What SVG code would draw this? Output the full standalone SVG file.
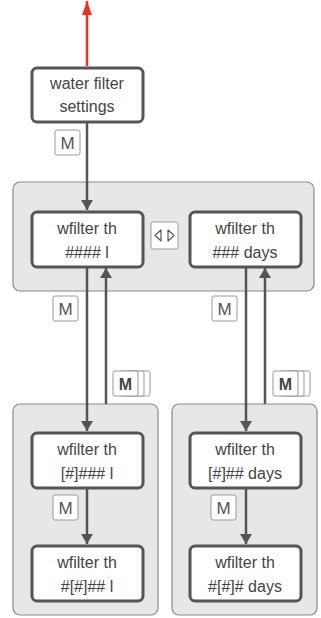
<svg xmlns="http://www.w3.org/2000/svg" width="321" height="618" viewBox="0 0 321 618">
<style>
.grp{fill:#e6e7e8;stroke:#8a8a8a;stroke-width:1.2}
.node{fill:#fff;stroke:#555;stroke-width:3}
.t{font-family:"Liberation Sans",Arial,sans-serif;font-size:16px;fill:#444;text-anchor:middle}
.badge{fill:#fff;stroke:#999;stroke-width:1}
.bt{font-family:"Liberation Sans",Arial,sans-serif;font-size:17px;fill:#555;text-anchor:middle}
.bb{font-weight:bold;font-size:16px;fill:#444}
.c{stroke:#555;stroke-width:2.5;fill:none}
</style>
<defs>
<marker id="ah" viewBox="0 0 10 12" refX="10" refY="6" markerWidth="10" markerHeight="12" markerUnits="userSpaceOnUse" orient="auto">
<path d="M0,0 L10,6 L0,12 Z" fill="#555"/>
</marker>
<marker id="ahr" viewBox="0 0 14 10" refX="14" refY="5" markerWidth="14" markerHeight="10" markerUnits="userSpaceOnUse" orient="auto">
<path d="M0,0 L14,5 L0,10 Z" fill="#ee3124"/>
</marker>
</defs>

<g id="group-top"><rect class="grp" x="13" y="182" width="301" height="109" rx="7"/></g>
<g id="group-left"><rect class="grp" x="13" y="404" width="145" height="211" rx="7"/></g>
<g id="group-right"><rect class="grp" x="172" y="404" width="145" height="211" rx="7"/></g>

<g id="connectors">
<line x1="87" y1="66" x2="87" y2="1" stroke="#ee3124" stroke-width="2.5" marker-end="url(#ahr)"/>
<line class="c" x1="87" y1="123" x2="87" y2="210" marker-end="url(#ah)"/>
<line class="c" x1="87" y1="268" x2="87" y2="431" marker-end="url(#ah)"/>
<line class="c" x1="106" y1="404" x2="106" y2="268" marker-end="url(#ah)"/>
<line class="c" x1="246" y1="268" x2="246" y2="431" marker-end="url(#ah)"/>
<line class="c" x1="265" y1="404" x2="265" y2="268" marker-end="url(#ah)"/>
<line class="c" x1="87" y1="489" x2="87" y2="544" marker-end="url(#ah)"/>
<line class="c" x1="246" y1="489" x2="246" y2="544" marker-end="url(#ah)"/>
</g>

<g id="node-settings">
<rect class="node" x="32" y="68" width="111" height="54" rx="5"/>
<text class="t" x="87" y="89">water filter</text>
<text class="t" x="87" y="112">settings</text>
</g>
<g id="node-liters">
<rect class="node" x="32" y="212" width="111" height="55" rx="5"/>
<text class="t" x="87" y="234">wfilter th</text>
<text class="t" x="87" y="258">#### l</text>
</g>
<g id="node-days">
<rect class="node" x="190" y="212" width="111" height="55" rx="5"/>
<text class="t" x="245" y="234">wfilter th</text>
<text class="t" x="245" y="258">### days</text>
</g>
<g id="node-liters-1">
<rect class="node" x="32" y="433" width="111" height="55" rx="5"/>
<text class="t" x="87" y="455">wfilter th</text>
<text class="t" x="87" y="479">[#]### l</text>
</g>
<g id="node-liters-2">
<rect class="node" x="32" y="546" width="111" height="55" rx="5"/>
<text class="t" x="87" y="568">wfilter th</text>
<text class="t" x="87" y="592">#[#]## l</text>
</g>
<g id="node-days-1">
<rect class="node" x="190" y="433" width="111" height="55" rx="5"/>
<text class="t" x="245" y="455">wfilter th</text>
<text class="t" x="245" y="479">[#]## days</text>
</g>
<g id="node-days-2">
<rect class="node" x="190" y="546" width="111" height="55" rx="5"/>
<text class="t" x="245" y="568">wfilter th</text>
<text class="t" x="245" y="592">#[#]# days</text>
</g>

<g id="badges">
<rect class="badge" x="55" y="130" width="25" height="25" rx="2"/>
<text class="bt" x="67.5" y="149">M</text>
<rect class="badge" x="53" y="296" width="25" height="25" rx="2"/>
<text class="bt" x="65.5" y="315">M</text>
<rect class="badge" x="212" y="296" width="25" height="25" rx="2"/>
<text class="bt" x="224.5" y="315">M</text>
<rect class="badge" x="53" y="495" width="25" height="25" rx="2"/>
<text class="bt" x="65.5" y="514">M</text>
<rect class="badge" x="211" y="495" width="25" height="25" rx="2"/>
<text class="bt" x="223.5" y="514">M</text>

<rect class="badge" x="125" y="371" width="25" height="25" rx="2"/>
<rect class="badge" x="119" y="371" width="25" height="25" rx="2"/>
<rect class="badge" x="113" y="371" width="25" height="25" rx="2"/>
<text class="bt bb" x="125.5" y="389.5">M</text>
<rect class="badge" x="285" y="371" width="25" height="25" rx="2"/>
<rect class="badge" x="279" y="371" width="25" height="25" rx="2"/>
<rect class="badge" x="273" y="371" width="25" height="25" rx="2"/>
<text class="bt bb" x="285.5" y="389.5">M</text>

<rect class="badge" x="151" y="222" width="27" height="27" rx="2"/>
<path d="M161,230 L161,241 L155,235.5 Z M168,230 L168,241 L174,235.5 Z" fill="none" stroke="#555" stroke-width="1.2" stroke-linejoin="round"/>
</g>
</svg>
